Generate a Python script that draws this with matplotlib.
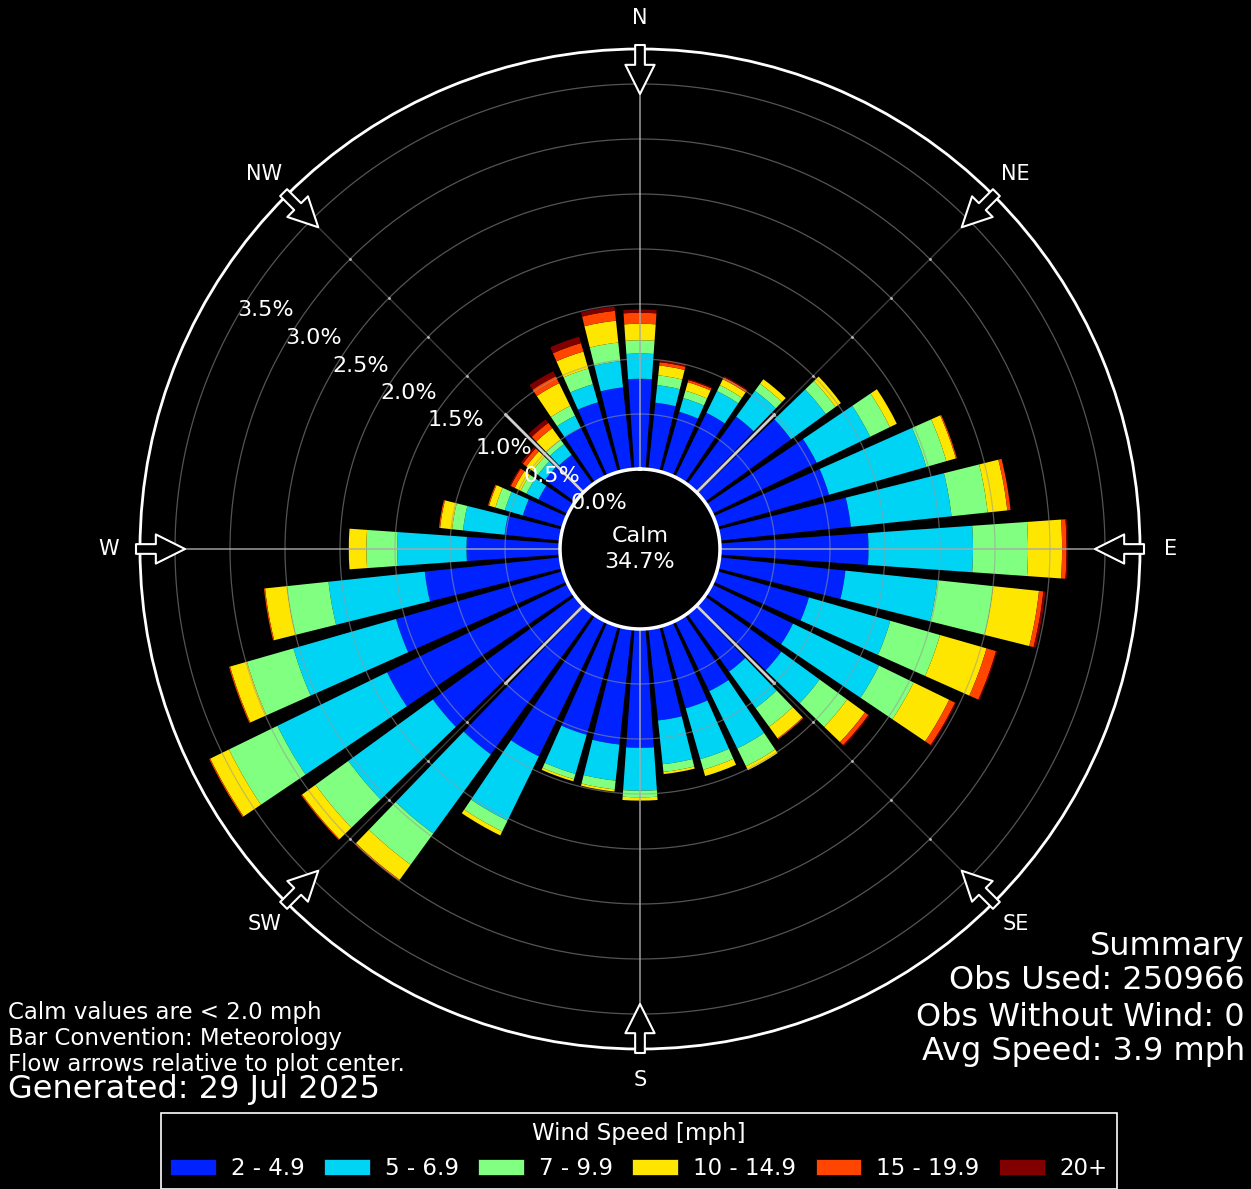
import numpy as np
import matplotlib
matplotlib.use('Agg')
import matplotlib.pyplot as plt
from matplotlib.patches import Rectangle

# wind rose, 36 direction bins (10 deg), percent of all obs per speed bin
directions = np.arange(0, 360, 10)
speed_labels = ['2 - 4.9', '5 - 6.9', '7 - 9.9', '10 - 14.9', '15 - 19.9', '20+']
speed_colors = ['#0022ff', '#00d4f5', '#80ff80', '#ffe600', '#ff4500', '#800000']

pct_2_5 = [0.82, 0.61, 0.57, 0.65, 0.76, 0.97, 1.06, 1.06, 1.20, 1.35, 1.15, 0.87,
           0.82, 0.86, 0.65, 0.71, 0.78, 0.84, 1.08, 1.06, 1.03, 1.37, 1.58, 1.60,
           1.83, 1.58, 1.24, 0.85, 0.51, 0.38, 0.30, 0.34, 0.33, 0.50, 0.66, 0.75]
pct_5_7 = [0.23, 0.16, 0.13, 0.22, 0.29, 0.39, 0.54, 0.92, 0.92, 0.95, 0.84, 0.77,
           0.87, 0.43, 0.41, 0.58, 0.48, 0.40, 0.39, 0.33, 0.37, 0.65, 0.89, 0.95,
           1.11, 0.97, 0.88, 0.63, 0.38, 0.17, 0.12, 0.08, 0.12, 0.12, 0.17, 0.24]
pct_7_10 = [0.12, 0.09, 0.07, 0.06, 0.08, 0.11, 0.20, 0.19, 0.33, 0.50, 0.51, 0.47,
            0.35, 0.31, 0.21, 0.18, 0.10, 0.07, 0.06, 0.08, 0.05, 0.11, 0.35, 0.37,
            0.49, 0.44, 0.38, 0.28, 0.10, 0.09, 0.06, 0.06, 0.05, 0.10, 0.15, 0.17]
pct_10_15 = [0.15, 0.09, 0.08, 0.06, 0.05, 0.06, 0.07, 0.09, 0.18, 0.31, 0.42, 0.44,
             0.36, 0.20, 0.13, 0.04, 0.06, 0.02, 0.03, 0.02, 0.02, 0.04, 0.17, 0.15,
             0.19, 0.16, 0.20, 0.16, 0.11, 0.06, 0.06, 0.07, 0.13, 0.23, 0.16, 0.20]
pct_15_20 = [0.10, 0.03, 0.02, 0.02, 0.00, 0.00, 0.00, 0.01, 0.03, 0.04, 0.04, 0.09,
             0.06, 0.04, 0.01, 0.00, 0.00, 0.00, 0.00, 0.00, 0.00, 0.00, 0.01, 0.01,
             0.01, 0.01, 0.01, 0.00, 0.01, 0.01, 0.04, 0.04, 0.06, 0.07, 0.08, 0.09]
pct_20up = [0.03, 0.02, 0.01, 0.01, 0.00, 0.00, 0.00, 0.00, 0.00, 0.01, 0.02, 0.01,
            0.01, 0.01, 0.00, 0.00, 0.00, 0.00, 0.00, 0.00, 0.00, 0.00, 0.00, 0.00,
            0.00, 0.00, 0.00, 0.00, 0.00, 0.00, 0.01, 0.02, 0.04, 0.05, 0.06, 0.04]

calm_pct = 34.7
rticks = [0.0, 0.5, 1.0, 1.5, 2.0, 2.5, 3.0, 3.5]
compass = ['N', 'NE', 'E', 'SE', 'S', 'SW', 'W', 'NW']

summary_lines = ['Summary', 'Obs Used: 250966', 'Obs Without Wind: 0',
                 'Avg Speed: 3.9 mph']
note_lines = ['Calm values are < 2.0 mph', 'Bar Convention: Meteorology',
              'Flow arrows relative to plot center.']
generated = 'Generated: 29 Jul 2025'

W, H = 1251, 1189


def fx(px):
    return px / W


def fy(py):
    return 1 - py / H


fig = plt.figure(figsize=(W / 100, H / 100), dpi=100, facecolor='black')
ax = fig.add_axes([fx(140), fy(1049), 1000 / W, 1000 / H], projection='polar')
ax.set_facecolor('black')
ax.set_theta_zero_location('N')
ax.set_theta_direction(-1)
rmax = 420 / 110
ax.set_rorigin(-80 / 110)
ax.set_ylim(0, rmax)
ax.set_xticks([])
ax.set_yticks([])
ax.grid(False)
ax.spines['polar'].set_edgecolor('white')
ax.spines['polar'].set_linewidth(2)

theta = np.deg2rad(directions)
width = np.deg2rad(8)
bottom = np.zeros(len(directions))
bins = [pct_2_5, pct_5_7, pct_7_10, pct_10_15, pct_15_20, pct_20up]
for vals, col in zip(bins, speed_colors):
    vals = np.array(vals)
    ax.bar(theta, vals, width=width, bottom=bottom, color=col,
           edgecolor='none', zorder=2)
    bottom = bottom + vals

# grid
circ = np.linspace(0, 2 * np.pi, 400)
for r in rticks[1:]:
    ax.plot(circ, np.full_like(circ, r), color='#999999', lw=0.9, alpha=0.55, zorder=4)
for d in [0, 90, 180, 270]:
    t = np.deg2rad(d)
    ax.plot([t, t], [0, rmax], color='#aaaaaa', lw=1.2, alpha=0.85, zorder=5)
for d in [45, 135, 225, 315]:
    t = np.deg2rad(d)
    ax.plot([t, t], [1.0, rmax], color='#3c3c3c', lw=1, zorder=1)
    ax.plot([t, t], [0, 1.0], color='#d0d0d0', lw=2, zorder=5)
    ax.plot([t] * 5, [1.0, 1.5, 2.0, 2.5, 3.0], 'o', ms=2, color='#bbbbbb',
            mec='none', zorder=5)

# calm circle
ax.plot(circ, np.zeros_like(circ), color='white', lw=2.5, clip_on=False, zorder=6)
fig.text(fx(640), fy(536), 'Calm', ha='center', va='center', color='white',
         fontsize=16)
fig.text(fx(640), fy(562), '%.1f%%' % calm_pct, ha='center', va='center',
         color='white', fontsize=16)

# radial labels
for r in rticks:
    ax.text(np.deg2rad(300), r, '%.1f%%' % r, ha='left', va='baseline',
            color='white', fontsize=16, zorder=10)

# compass labels and flow arrows
for i, name in enumerate(compass):
    t = np.deg2rad(i * 45)
    ax.text(t, 451 / 110, name, ha='center', va='center', color='white',
            fontsize=15, clip_on=False)
    ax.annotate('', xy=(t, 375 / 110), xytext=(t, 424 / 110),
                arrowprops=dict(arrowstyle='simple,head_length=2.1,head_width=2.1,tail_width=0.7',
                                fc='black', ec='white', lw=1.5, shrinkA=0, shrinkB=0,
                                mutation_scale=10),
                annotation_clip=False, zorder=8)

# notes
for line, yb in zip(note_lines, [1019, 1045, 1071]):
    fig.text(fx(8), fy(yb), line, ha='left', va='baseline', color='white',
             fontsize=16.5)
fig.text(fx(8), fy(1098), generated, ha='left', va='baseline', color='white',
         fontsize=23)
for line, yb in zip(summary_lines, [955, 989, 1026, 1060]):
    fig.text(fx(1245), fy(yb), line, ha='right', va='baseline', color='white',
             fontsize=23)

handles = [Rectangle((0, 0), 1, 1, fc=c, ec='black', lw=0.5) for c in speed_colors]
leg = fig.legend(handles, speed_labels, ncol=6, loc='upper center',
                 bbox_to_anchor=(fx(639), fy(1113)), title='Wind Speed [mph]',
                 fontsize=16.5, title_fontsize=16.5, facecolor='black',
                 edgecolor='white', labelcolor='white', fancybox=False,
                 framealpha=1, handlelength=2.0, handleheight=0.7,
                 handletextpad=0.65, columnspacing=0.85, borderaxespad=0)
leg.get_title().set_color('white')
leg.get_frame().set_linewidth(1.2)

fig.savefig('out.png', dpi=100, facecolor='black')
